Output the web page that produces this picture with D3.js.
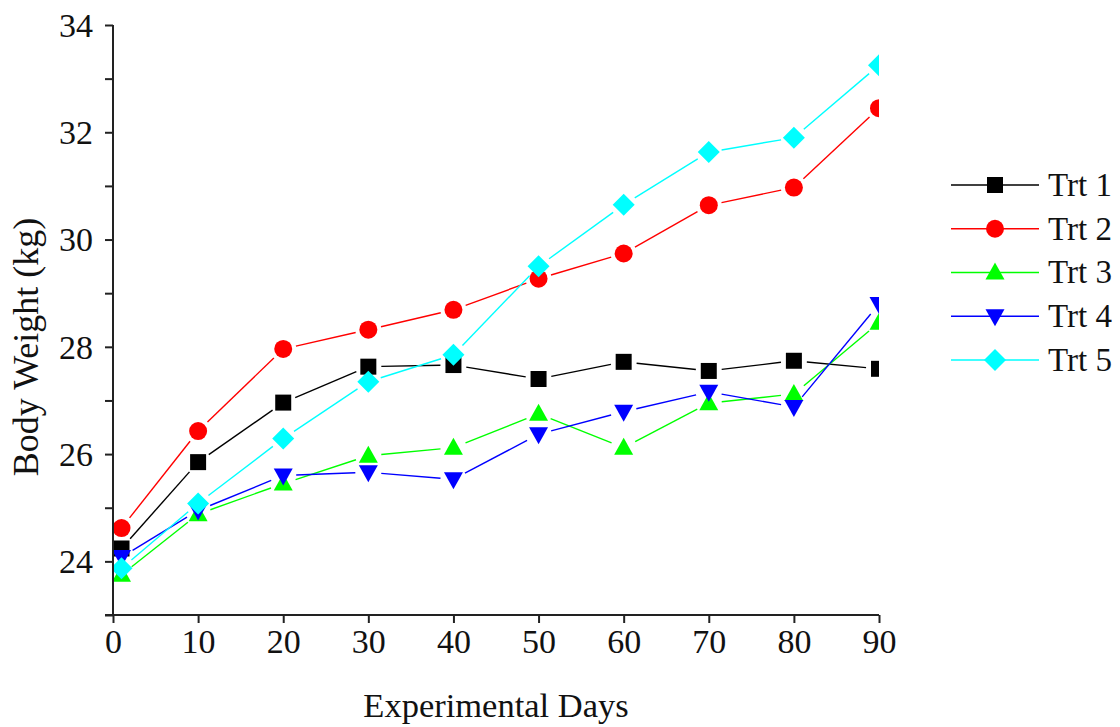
<!DOCTYPE html>
<html>
<head>
<meta charset="utf-8">
<script src="https://cdn.jsdelivr.net/npm/d3@7"></script>
<style>
  body { margin: 0; background: #fff; }
  svg { display: block; }
  text { font-family: "Liberation Serif", "Times New Roman", serif; fill: #111; }
</style>
</head>
<body>
<svg id="chart" width="1120" height="727"></svg>
<script>
// ---- data ----
const days = [1, 10, 20, 30, 40, 50, 60, 70, 80, 90];
const seriesNames = ["Trt 1", "Trt 2", "Trt 3", "Trt 4", "Trt 5"];
const trt1 = [24.24, 25.85, 26.96, 27.63, 27.66, 27.40, 27.72, 27.55, 27.74, 27.59];
const trt2 = [24.62, 26.43, 27.96, 28.32, 28.69, 29.27, 29.74, 30.64, 30.97, 32.45];
const trt3 = [23.75, 24.88, 25.45, 25.97, 26.12, 26.75, 26.12, 26.95, 27.12, 28.45];
const trt4 = [24.08, 24.95, 25.60, 25.66, 25.53, 26.37, 26.79, 27.16, 26.88, 28.80];
const trt5 = [23.87, 25.08, 26.29, 27.35, 27.85, 29.50, 30.65, 31.63, 31.90, 33.25];
const xTicks = [0, 10, 20, 30, 40, 50, 60, 70, 80, 90];
const yTicks = [23, 24, 25, 26, 27, 28, 29, 30, 31, 32, 33, 34];
const yLabels = [24, 26, 28, 30, 32, 34];
const xTitle = "Experimental Days";
const yTitle = "Body Weight (kg)";

// ---- styles ----
const colors = ["#000000", "#ff0000", "#00ff00", "#0000ff", "#00ffff"];
const shapes = ["square", "circle", "triangleUp", "triangleDown", "diamond"];
const allSeries = [trt1, trt2, trt3, trt4, trt5];

const svg = d3.select("#chart");
const x = d3.scaleLinear().domain([0, 90]).range([113, 879]);
const y = d3.scaleLinear().domain([23, 34]).range([615, 25]);

function markerPath(shape) {
  switch (shape) {
    case "square": return "M-8,-8H8V8H-8Z";
    case "circle": return d3.symbol(d3.symbolCircle, Math.PI * 9 * 9)();
    case "triangleUp": return "M0,-10L9.5,7L-9.5,7Z";
    case "triangleDown": return "M0,10L9.5,-7L-9.5,-7Z";
    case "diamond": return "M0,-11L11,0L0,11L-11,0Z";
  }
}

// clip
svg.append("defs").append("clipPath").attr("id", "plotclip")
  .append("rect").attr("x", 113).attr("y", 0).attr("width", 879 - 113).attr("height", 615);

const plot = svg.append("g").attr("clip-path", "url(#plotclip)");
const gap = 13;

allSeries.forEach((vals, si) => {
  const pts = vals.map((v, i) => [x(days[i]), y(v)]);
  const g = plot.append("g");
  const segs = d3.pairs(pts).map(([a, b]) => {
    const dx = b[0] - a[0], dy = b[1] - a[1];
    const len = Math.hypot(dx, dy);
    const ux = dx / len, uy = dy / len;
    return [a[0] + ux * gap, a[1] + uy * gap, b[0] - ux * gap, b[1] - uy * gap];
  });
  g.selectAll("line").data(segs).join("line")
    .attr("x1", d => d[0]).attr("y1", d => d[1])
    .attr("x2", d => d[2]).attr("y2", d => d[3])
    .attr("stroke", colors[si]).attr("stroke-width", 1.4);
  g.selectAll("path").data(pts).join("path")
    .attr("d", markerPath(shapes[si]))
    .attr("transform", d => `translate(${d[0]},${d[1]})`)
    .attr("fill", colors[si]);
});

// axes
const yAxis = d3.axisLeft(y).tickValues(yTicks)
  .tickFormat(d => yLabels.includes(d) ? d : "")
  .tickSize(8).tickPadding(12);
const gy = svg.append("g").attr("transform", "translate(113,0)").call(yAxis);
gy.select(".domain").attr("d", "M0,25V615").attr("stroke", "#222").attr("stroke-width", 2);
gy.selectAll(".tick line").attr("stroke", "#222").attr("stroke-width", 2);
gy.selectAll(".tick text").style("font-size", "34px").attr("dy", "0.33em");

const xAxis = d3.axisBottom(x).tickValues(xTicks).tickSize(8).tickPadding(6);
const gx = svg.append("g").attr("transform", "translate(0,615)").call(xAxis);
gx.select(".domain").attr("d", "M105,0H879").attr("stroke", "#222").attr("stroke-width", 2);
gx.selectAll(".tick line").attr("stroke", "#222").attr("stroke-width", 2);
gx.selectAll(".tick text").style("font-size", "34px");
svg.selectAll(".tick text").attr("fill", "#111").style("font-family", "'Liberation Serif', serif");

// titles
svg.append("text").attr("x", 496).attr("y", 717).attr("text-anchor", "middle")
  .style("font-size", "34.5px").text(xTitle);
svg.append("text").attr("transform", "translate(38,347) rotate(-90)")
  .attr("text-anchor", "middle").style("font-size", "36px").text(yTitle);

// legend
const legY = d3.scaleLinear().domain([0, 4]).range([185, 360]);
const leg = svg.append("g");
seriesNames.forEach((name, si) => {
  const cy = legY(si);
  leg.append("line").attr("x1", 951).attr("x2", 1039).attr("y1", cy).attr("y2", cy)
    .attr("stroke", colors[si]).attr("stroke-width", 1.6);
  leg.append("path").attr("d", markerPath(shapes[si]))
    .attr("transform", `translate(995,${cy})`).attr("fill", colors[si]);
  leg.append("text").attr("x", 1048).attr("y", cy).attr("dy", "0.33em")
    .style("font-size", "33px").text(name);
});
</script>
</body>
</html>
